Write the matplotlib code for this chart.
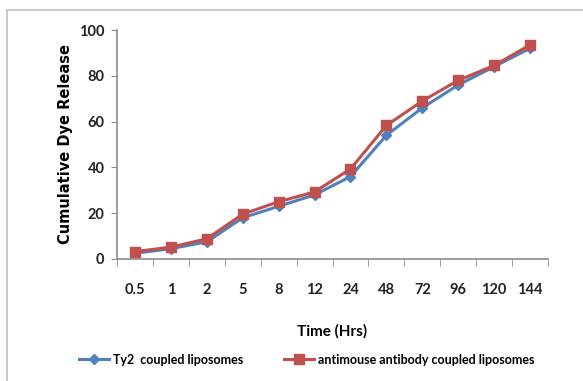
import matplotlib
matplotlib.use('Agg')
from matplotlib import pyplot as plt
from matplotlib.patches import Rectangle

# time points (categories)
times = ['0.5', '1', '2', '5', '8', '12', '24', '48', '72', '96', '120', '144']
ty2 = [2.5, 4.5, 7.5, 18, 23, 28, 36, 54, 66, 76, 84, 92]
antimouse = [3.2, 5.2, 8.8, 19.6, 25, 29.3, 39.3, 58.3, 69, 78, 84.5, 93.5]

blue = '#4F81BD'
red = '#C0504D'
grey = '#8C8C8C'
narrow = ['Lato', 'DejaVu Sans']

fig = plt.figure(figsize=(5.83, 3.81), dpi=100)
fig.patches.append(Rectangle((7/583, -0.1), 1.2, 1 - 10/381 + 0.1, transform=fig.transFigure,
                             fill=False, edgecolor='#BFBFBF', linewidth=1.2))

ax = fig.add_axes([117/583, 1 - 259/381, (548-117)/583, (259-30)/381])
x = list(range(len(times)))
ax.plot(x, ty2, color=blue, marker='D', markersize=5, linewidth=2.2, label='Ty2  coupled liposomes')
ax.plot(x, antimouse, color=red, marker='s', markersize=7, linewidth=2.2,
        label='antimouse antibody coupled liposomes')

ax.set_xlim(-0.5, len(times) - 0.5)
ax.set_ylim(0, 100)
ax.set_yticks([0, 20, 40, 60, 80, 100])
ax.set_xticks(x)
ax.set_xticklabels(times)
ax.set_xticks([i - 0.5 for i in range(len(times) + 1)], minor=True)
ax.tick_params(axis='x', which='major', length=0, pad=17)
ax.tick_params(axis='x', which='minor', length=5, color=grey, direction='out')
ax.tick_params(axis='y', length=4, color=grey, direction='out', pad=5)
for lab in ax.get_xticklabels() + ax.get_yticklabels():
    lab.set_family(narrow)
    lab.set_fontsize(10.5)
    lab.set_fontweight('bold')
    lab.set_color('#222222')

for s in ['top', 'right']:
    ax.spines[s].set_visible(False)
for s in ['left', 'bottom']:
    ax.spines[s].set_color(grey)
    ax.spines[s].set_linewidth(1.2)

ax.set_xlabel('Time (Hrs)', family=narrow, fontsize=11, fontweight='bold', labelpad=20)
ax.set_ylabel('Cumulative Dye Release', family='DejaVu Sans', fontsize=10.5, fontweight='bold', labelpad=4)

leg = ax.legend(loc='center', bbox_to_anchor=(0.44, -0.44), ncol=2, frameon=False,
                prop={'family': narrow, 'size': 9, 'weight': 'bold'},
                handlelength=2.4, columnspacing=3.3, handletextpad=0.3)

fig.savefig('out.png', dpi=100)
